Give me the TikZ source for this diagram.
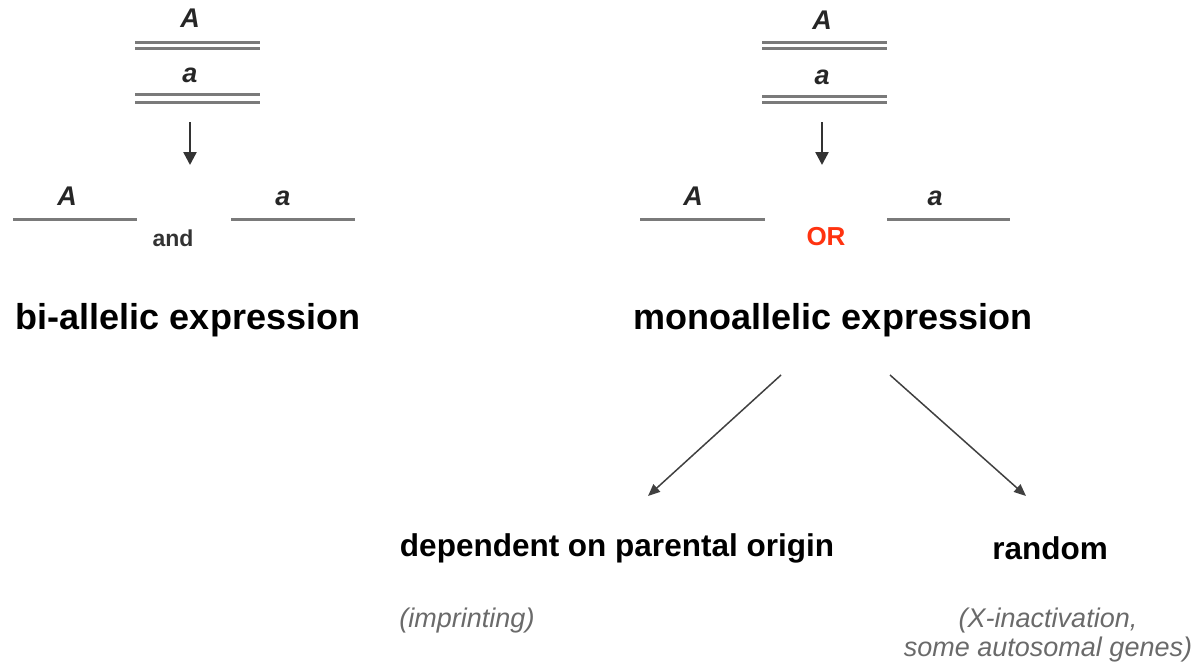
\documentclass[tikz,border=0pt]{standalone}
\usepackage{fontspec}
\setmainfont{Liberation Sans}
\usetikzlibrary{arrows.meta}
\definecolor{lgray}{HTML}{7A7A7A}
\definecolor{tgray}{HTML}{6A6A6A}
\definecolor{orred}{HTML}{FF3310}
\begin{document}
\begin{tikzpicture}[x=1pt,y=-1pt,
  allele/.style={font=\fontsize{27}{30}\selectfont\bfseries\itshape, text=black!85, inner sep=0},
  bigtxt/.style={font=\fontsize{36}{40}\selectfont\bfseries, inner sep=0},
  subtxt/.style={font=\fontsize{31.5}{34}\selectfont\bfseries, inner sep=0},
  note/.style={font=\fontsize{27}{29}\selectfont\itshape, text=tgray, inner sep=0, align=center},
  chrom/.style={draw=lgray, line width=3pt},
  arr/.style={draw=black!80, line width=2.5pt, -{Triangle[length=13pt,width=13pt]}},
  darr/.style={draw=black!75, line width=1.5pt, -{Triangle[length=12pt,width=10pt]}}]
\useasboundingbox (0,0) rectangle (1198,666);
% ---------- left ----------
\node[allele] (lA) at (190,18) {A};
\draw[chrom] (135,42.5) -- (260,42.5) (135,48.5) -- (260,48.5);
\node[allele] (la) at (190,75) {a};
\draw[chrom] (135,94.5) -- (260,94.5) (135,102.5) -- (260,102.5);
\coordinate (lt) at (190,122);
\coordinate (lb) at (190,165);
\draw[arr] (lt) -- (lb);
\node[allele] (lA2) at (67,196) {A};
\draw[chrom] (13,219.5) -- (137,219.5);
\node[allele] (la2) at (283,198) {a};
\draw[chrom] (231,219.5) -- (355,219.5);
\node[font=\fontsize{23}{26}\selectfont\bfseries, text=black!80] (and) at (173,238) {and};
\node[bigtxt] (bi) at (188,320) {bi-allelic expression};
% ---------- right ----------
\node[allele] (rA) at (822,20) {A};
\draw[chrom] (762,42.5) -- (887,42.5) (762,48.5) -- (887,48.5);
\node[allele] (ra) at (822,77) {a};
\draw[chrom] (762,97) -- (887,97) (762,103) -- (887,103);
\coordinate (rt) at (822,122);
\coordinate (rb) at (822,165);
\draw[arr] (rt) -- (rb);
\node[allele] (rA2) at (693,196) {A};
\draw[chrom] (640,219.5) -- (765,219.5);
\node[allele] (ra2) at (935,198) {a};
\draw[chrom] (887,219.5) -- (1010,219.5);
\node[font=\fontsize{26}{28}\selectfont\bfseries, text=orred] (or) at (826,237) {OR};
\node[bigtxt] (mono) at (833,320) {monoallelic expression};
\coordinate (m1) at (781,375);
\coordinate (m2) at (890,375);
\coordinate (d1) at (648,496);
\coordinate (d2) at (1026,496);
\draw[darr] (m1) -- (d1);
\draw[darr] (m2) -- (d2);
\node[subtxt] (dep) at (617,548) {dependent on parental origin};
\node[subtxt] (rand) at (1050,548) {random};
\node[note] (imp) at (467,621) {(imprinting)};
\node[note] (xin) at (1048,635.5) {(X-inactivation,\\ some autosomal genes)};
\end{tikzpicture}
\end{document}
